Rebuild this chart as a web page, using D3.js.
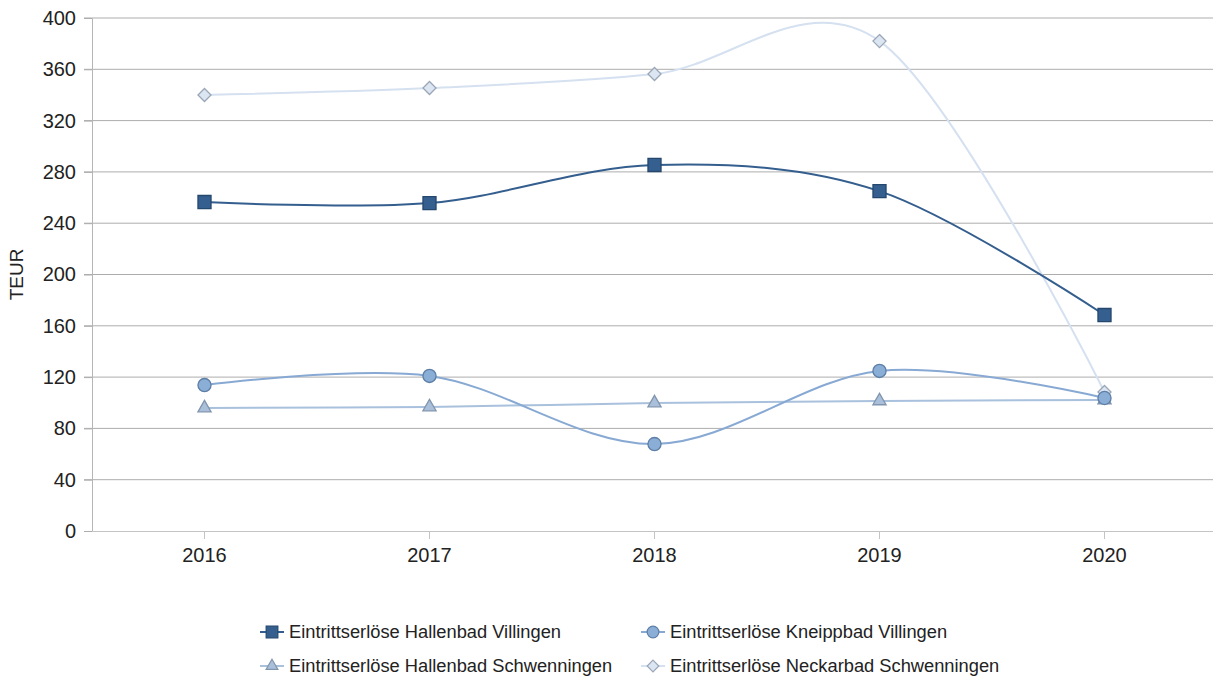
<!DOCTYPE html>
<html>
<head>
<meta charset="utf-8">
<script src="https://cdn.jsdelivr.net/npm/d3@7"></script>
<style>
  body { margin: 0; background: #fff; }
  svg { display: block; font-family: "Liberation Sans", Arial, sans-serif; }
  .tick text { fill: #222; font-size: 20px; }
  .legend text { fill: #222; font-size: 18.3px; }
</style>
</head>
<body>
<div id="chart"></div>
<script>
const years = ['2016', '2017', '2018', '2019', '2020']
const yTicks = [0, 40, 80, 120, 160, 200, 240, 280, 320, 360, 400]

const hallenbadVillingen = [256.5, 255.7, 285.4, 265, 168.4]
const kneippbadVillingen = [113.8, 120.9, 67.8, 124.8, 103.7]
const hallenbadSchwenningen = [95.9, 96.7, 99.8, 101.4, 102.2]
const neckarbadSchwenningen = [340, 345.4, 356.3, 382, 108.4]

const seriesNames = [
  'Eintrittserlöse Hallenbad Villingen',
  'Eintrittserlöse Kneippbad Villingen',
  'Eintrittserlöse Hallenbad Schwenningen',
  'Eintrittserlöse Neckarbad Schwenningen'
]

const W = 1213, H = 680
const margin = { left: 92, top: 18, bottom: 149 }

// diamond = square turned by 45 degrees
const diamond = {
  draw(ctx, size) {
    const r = Math.sqrt(size / 2)
    ctx.moveTo(0, -r)
    ctx.lineTo(r, 0)
    ctx.lineTo(0, r)
    ctx.lineTo(-r, 0)
    ctx.closePath()
  }
}

const series = [
  { name: seriesNames[0], values: hallenbadVillingen, shape: d3.symbolSquare, size: 170, line: '#345e8e', fill: '#345f8f', stroke: '#24476e' },
  { name: seriesNames[1], values: kneippbadVillingen, shape: d3.symbolCircle, size: 135, line: '#87a9d3', fill: '#8aaed6', stroke: '#5d7ea6' },
  { name: seriesNames[2], values: hallenbadSchwenningen, shape: d3.symbolTriangle, size: 75, line: '#a9c1dd', fill: '#aabfda', stroke: '#8195ae' },
  { name: seriesNames[3], values: neckarbadSchwenningen, shape: diamond, size: 85, line: '#d5e1f0', fill: '#dce6f2', stroke: '#9aa6b6' }
]

const svg = d3.select('#chart').append('svg')
  .attr('width', W)
  .attr('height', H)

const x = d3.scaleBand()
  .domain(years)
  .range([margin.left, margin.left + 225 * years.length])

const y = d3.scaleLinear()
  .domain([0, 400])
  .range([H - margin.bottom, margin.top])

// grid
svg.append('g')
  .selectAll('line')
  .data(yTicks.slice(1))
  .enter()
  .append('line')
  .attr('x1', margin.left - 8)
  .attr('x2', W)
  .attr('y1', d => y(d))
  .attr('y2', d => y(d))
  .attr('stroke', '#adadad')
  .attr('stroke-width', 1)

// y axis
const yAxis = svg.append('g')
  .attr('transform', `translate(${margin.left},0)`)
  .call(d3.axisLeft(y).tickValues(yTicks).tickSize(8).tickPadding(8))
yAxis.select('.domain').attr('stroke', '#b5b5b5')
yAxis.selectAll('.tick line').attr('stroke', '#adadad')

// x axis
const xAxis = svg.append('g')
  .attr('transform', `translate(0,${y(0)})`)
  .call(d3.axisBottom(x).tickSize(8).tickSizeOuter(0).tickPadding(7))
xAxis.select('.domain').attr('stroke', '#c4c4c4')
xAxis.selectAll('.tick line').attr('stroke', '#c4c4c4')
xAxis.selectAll('.tick text').attr('dy', '0.8em')

svg.append('text')
  .attr('transform', `translate(23,${y(200)}) rotate(-90)`)
  .attr('text-anchor', 'middle')
  .attr('fill', '#222')
  .style('font-size', '19px')
  .text('TEUR')

const line = d3.line()
  .x((d, i) => x(years[i]) + x.bandwidth() / 2)
  .y(d => y(d))
  .curve(d3.curveCardinal.tension(0))

const drawOrder = [3, 2, 1, 0]
drawOrder.forEach(k => {
  const s = series[k]
  const g = svg.append('g')
  g.append('path')
    .datum(s.values)
    .attr('d', line)
    .attr('fill', 'none')
    .attr('stroke', s.line)
    .attr('stroke-width', 2)
  g.selectAll('path.m')
    .data(s.values)
    .enter()
    .append('path')
    .attr('class', 'm')
    .attr('transform', (d, i) => `translate(${x(years[i]) + x.bandwidth() / 2},${y(d)})`)
    .attr('d', d3.symbol().type(s.shape).size(s.size))
    .attr('fill', s.fill)
    .attr('stroke', s.stroke)
    .attr('stroke-width', 1.3)
})

// legend
const legendPos = [[260, 632], [641, 632], [260, 666], [641, 666]]
const legend = svg.append('g').attr('class', 'legend')
series.forEach((s, i) => {
  const [lx, ly] = legendPos[i]
  const g = legend.append('g').attr('transform', `translate(${lx},${ly})`)
  g.append('line')
    .attr('x1', 0).attr('x2', 24)
    .attr('stroke', s.line).attr('stroke-width', 2)
  g.append('path')
    .attr('transform', 'translate(12,0)')
    .attr('d', d3.symbol().type(s.shape).size(s.size * 0.8))
    .attr('fill', s.fill)
    .attr('stroke', s.stroke)
    .attr('stroke-width', 1.2)
  g.append('text')
    .attr('x', 29)
    .attr('dy', '0.35em')
    .text(s.name)
})
</script>
</body>
</html>
